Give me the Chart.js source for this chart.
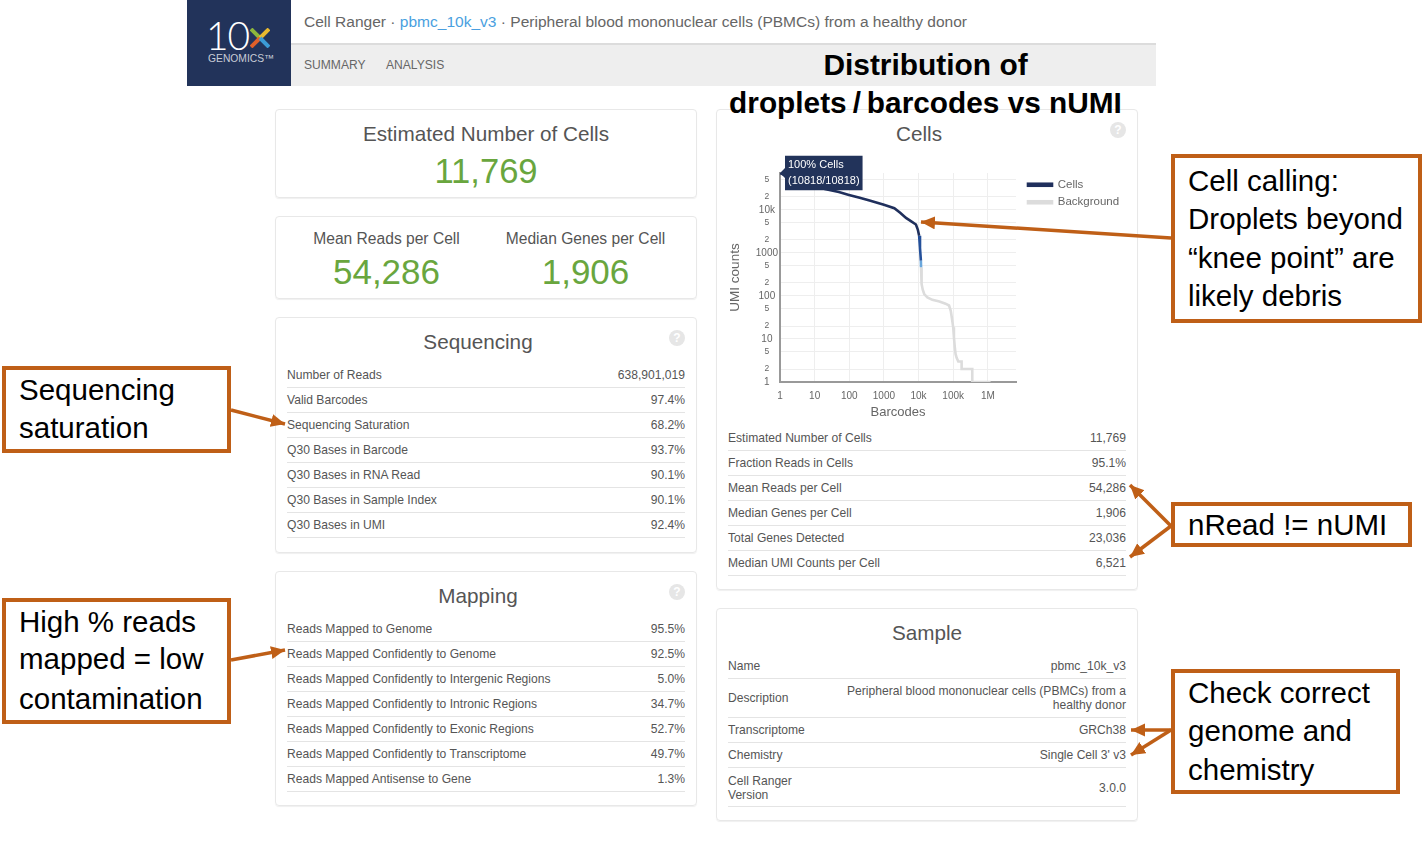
<!DOCTYPE html>
<html>
<head>
<meta charset="utf-8">
<title>pbmc_10k_v3</title>
<script src="https://cdn.jsdelivr.net/npm/chart.js@4"></script>
<style>
  html, body { margin: 0; background: #fff; overflow: hidden; }
  body { position: relative; width: 1427px; height: 847px; font-family: "Liberation Sans", Arial, sans-serif; color: #555; }
  .abs { position: absolute; white-space: nowrap; }
  .ctr { transform: translate(-50%, -50%); text-align: center; }
  .vmid { transform: translateY(-50%); }
  .panel { position: absolute; box-sizing: border-box; border: 1px solid #e8e8e8; border-radius: 4px; box-shadow: 0 1px 1px #f0f0f0; }
  .green { color: #69a63e; }
  .rowline { position: absolute; height: 1px; background: #e4e4e4; }
  .note { position: absolute; box-sizing: border-box; border: 4px solid #bf5f17; background: #fff; color: #000; font-size: 29.5px; white-space: nowrap; }
  .note div { position: absolute; left: 13px; transform: translateY(-50%); }
  .help { position: absolute; width: 16px; height: 16px; border-radius: 8px; background: #e6e6e6; color: #fff; font: bold 12px/16px "Liberation Sans"; text-align: center; }
  #chartBox { position: absolute; left: 725px; top: 150px; }
</style>
</head>
<body>

<div class="abs" style="left:187px;top:0;width:104px;height:86px;background:#22335a"></div>
<div class="abs" style="left:291px;top:43px;width:865px;height:43px;background:#eee"></div>
<div class="abs" style="left:291px;top:43px;width:865px;height:2px;background:#dcdcdc"></div>
<div class="abs vmid" style="left:206px;top:35px;font-family:Lato;font-weight:300;font-size:39px;line-height:30px;letter-spacing:-1px;color:#fff">10</div>
<svg class="abs" style="left:250px;top:28px" width="20" height="20">
  <line x1="1" y1="1" x2="10" y2="10" stroke="#8db63c" stroke-width="4"/>
  <line x1="19" y1="1" x2="10" y2="10" stroke="#e8b92f" stroke-width="4"/>
  <line x1="1" y1="19" x2="10" y2="10" stroke="#e0602a" stroke-width="4"/>
  <line x1="19" y1="19" x2="10" y2="10" stroke="#3b9bd6" stroke-width="4"/>
</svg>
<div class="abs vmid" style="left:208px;top:58px;font-size:10.3px;line-height:11px;color:#c8ccd6">GENOMICS&trade;</div>
<div class="abs vmid" style="left:304px;top:21.5px;font-size:15.54px;color:#666">Cell Ranger &middot; <span style="color:#4a9fe0">pbmc_10k_v3</span> &middot; Peripheral blood mononuclear cells (PBMCs) from a healthy donor</div>
<div class="abs vmid" style="left:304px;top:65px;font-size:12.1px;color:#666">SUMMARY</div>
<div class="abs vmid" style="left:386px;top:65px;font-size:12.1px;color:#666">ANALYSIS</div>

<div class="panel" style="left:275px;top:109px;width:422px;height:89px"></div>
<div class="panel" style="left:275px;top:216px;width:422px;height:83px"></div>
<div class="panel" style="left:275px;top:317px;width:422px;height:236px"></div>
<div class="panel" style="left:275px;top:571px;width:422px;height:235px"></div>
<div class="panel" style="left:716px;top:109px;width:422px;height:481px"></div>
<div class="panel" style="left:716px;top:608px;width:422px;height:213px"></div>

<div class="abs ctr" style="left:486px;top:134px;font-size:20.7px">Estimated Number of Cells</div>
<div class="abs ctr green" style="left:486px;top:170.5px;font-size:34.6px">11,769</div>
<div class="abs ctr" style="left:386.5px;top:239px;font-size:15.6px">Mean Reads per Cell</div>
<div class="abs ctr green" style="left:386.5px;top:272px;font-size:35px">54,286</div>
<div class="abs ctr" style="left:585.5px;top:239px;font-size:15.6px">Median Genes per Cell</div>
<div class="abs ctr green" style="left:585.5px;top:272px;font-size:35px">1,906</div>
<div class="abs ctr" style="left:478px;top:342px;font-size:20.7px">Sequencing</div>
<div class="abs ctr" style="left:478px;top:596px;font-size:20.7px">Mapping</div>
<div class="abs ctr" style="left:919px;top:134px;font-size:20.7px">Cells</div>
<div class="abs ctr" style="left:927px;top:633px;font-size:20.7px">Sample</div>
<div class="help" style="left:669px;top:330px">?</div>
<div class="help" style="left:669px;top:584px">?</div>
<div class="help" style="left:1110px;top:122px">?</div>

<div id="rows"></div>

<div id="chartBox"><canvas id="cellsChart" width="402" height="270"></canvas></div>

<div class="abs ctr" style="left:925.5px;top:65px;font-size:29.9px;font-weight:bold;color:#000">Distribution of</div>
<div class="abs ctr" style="left:925.5px;top:102.5px;font-size:29.8px;font-weight:bold;color:#000">droplets&thinsp;/&thinsp;barcodes vs nUMI</div>

<div class="note" style="left:2px;top:366px;width:229px;height:87px"><div style="top:20px">Sequencing</div><div style="top:58px">saturation</div></div>
<div class="note" style="left:2px;top:598px;width:229px;height:126px"><div style="top:20px">High % reads</div><div style="top:57px">mapped = low</div><div style="top:97px">contamination</div></div>
<div class="note" style="left:1171px;top:154px;width:251px;height:169px"><div style="top:23px">Cell calling:</div><div style="top:61px">Droplets beyond</div><div style="top:100px">&ldquo;knee point&rdquo; are</div><div style="top:138px">likely debris</div></div>
<div class="note" style="left:1171px;top:502px;width:241px;height:45px"><div style="top:19px">nRead != nUMI</div></div>
<div class="note" style="left:1171px;top:669px;width:229px;height:125px"><div style="top:20px">Check correct</div><div style="top:58px">genome and</div><div style="top:97px">chemistry</div></div>

<svg class="abs" style="left:0;top:0;pointer-events:none" width="1427" height="847">
  <defs>
    <marker id="head" markerUnits="userSpaceOnUse" markerWidth="15" markerHeight="14" refX="14" refY="6.5" orient="auto">
      <path d="M0,0 L14,6.5 L0,13 Z" fill="#bf5f17"/>
    </marker>
  </defs>
  <g stroke="#bf5f17" stroke-width="3.5" fill="none">
    <line x1="231" y1="410" x2="285" y2="424" marker-end="url(#head)"/>
    <line x1="231" y1="660" x2="285" y2="650" marker-end="url(#head)"/>
    <line x1="1171" y1="238" x2="921" y2="222" marker-end="url(#head)"/>
    <line x1="1171" y1="526" x2="1130" y2="485" marker-end="url(#head)"/>
    <line x1="1171" y1="526" x2="1130" y2="557" marker-end="url(#head)"/>
    <line x1="1171" y1="730" x2="1131" y2="730" marker-end="url(#head)"/>
    <line x1="1171" y1="730" x2="1131" y2="755" marker-end="url(#head)"/>
  </g>
</svg>

<script>
// chart values
const cellsX = [1, 3, 10, 19.6, 50, 98, 200, 385, 1000, 2000, 3000, 4340, 6000, 8400, 9500, 10400];
const cellsY = [72000, 50000, 36000, 30800, 26000, 22300, 19200, 16500, 13100, 10900, 8500, 6500, 5500, 4570, 3500, 2500];
const mixedX = [10400, 11000, 11670];
const mixedY = [2500, 1300, 662];
const edgeX = [11670, 11800];
const edgeY = [662, 464];
const backgroundX = [11800, 12000, 12470, 13200, 14600, 18000, 25000, 40000, 60000, 76000, 85000, 92000, 100000, 105000, 112000, 117000, 125000, 140000, 175000, 175000, 355000, 355000, 1200000];
const backgroundY = [464, 300, 190, 140, 111, 92, 81, 74, 66, 60, 45, 30, 18.7, 11, 6, 4.5, 3.7, 3, 3, 2, 2, 1, 1];

const xTickValues = [1, 10, 100, 1000, 10000, 100000, 1000000];
const xTickLabels = ['1', '10', '100', '1000', '10k', '100k', '1M'];
const yTickValues = [1, 2, 5, 10, 20, 50, 100, 200, 500, 1000, 2000, 5000, 10000, 20000, 50000];
const yTickLabels = ['1', '2', '5', '10', '2', '5', '100', '2', '5', '1000', '2', '5', '10k', '2', '5'];
const tooltipLines = ['100% Cells', '(10818/10818)'];

// table rows of the summary panels
const sequencingRows = [
  ['Number of Reads', '638,901,019'], ['Valid Barcodes', '97.4%'], ['Sequencing Saturation', '68.2%'],
  ['Q30 Bases in Barcode', '93.7%'], ['Q30 Bases in RNA Read', '90.1%'],
  ['Q30 Bases in Sample Index', '90.1%'], ['Q30 Bases in UMI', '92.4%']
];
const mappingRows = [
  ['Reads Mapped to Genome', '95.5%'], ['Reads Mapped Confidently to Genome', '92.5%'],
  ['Reads Mapped Confidently to Intergenic Regions', '5.0%'], ['Reads Mapped Confidently to Intronic Regions', '34.7%'],
  ['Reads Mapped Confidently to Exonic Regions', '52.7%'], ['Reads Mapped Confidently to Transcriptome', '49.7%'],
  ['Reads Mapped Antisense to Gene', '1.3%']
];
const cellsRows = [
  ['Estimated Number of Cells', '11,769'], ['Fraction Reads in Cells', '95.1%'], ['Mean Reads per Cell', '54,286'],
  ['Median Genes per Cell', '1,906'], ['Total Genes Detected', '23,036'], ['Median UMI Counts per Cell', '6,521']
];
const sampleRows = [
  ['Name', 'pbmc_10k_v3', 666, 678],
  ['Description', 'Peripheral blood mononuclear cells (PBMCs) from a<br>healthy donor', 698, 717],
  ['Transcriptome', 'GRCh38', 730, 742],
  ['Chemistry', 'Single Cell 3\' v3', 755, 767],
  ['Cell Ranger<br>Version', '3.0.0', 788, 806]
];

function addRow(left, right, y, lineY, a, b) {
  const holder = document.getElementById('rows');
  holder.insertAdjacentHTML('beforeend',
    `<div class="abs vmid" style="left:${left}px;top:${y}px;font-size:12.1px;line-height:14px">${a}</div>` +
    `<div class="abs vmid" style="right:${1427 - right}px;top:${y}px;font-size:12.1px;line-height:14px;text-align:right">${b}</div>` +
    `<div class="rowline" style="left:${left}px;width:${right - left}px;top:${lineY}px"></div>`);
}
sequencingRows.forEach((r, i) => addRow(287, 685, 375 + i * 25, 387 + i * 25, r[0], r[1]));
mappingRows.forEach((r, i) => addRow(287, 685, 629 + i * 25, 641 + i * 25, r[0], r[1]));
cellsRows.forEach((r, i) => addRow(728, 1126, 438 + i * 25, 450 + i * 25, r[0], r[1]));
sampleRows.forEach(r => addRow(728, 1126, r[2], r[3], r[0], r[1]));

function toPoints(xs, ys) {
  return xs.map((x, i) => ({ x: x, y: ys[i] }));
}

function lineSet(label, xs, ys, color) {
  return {
    label: label,
    data: toPoints(xs, ys),
    borderColor: color,
    backgroundColor: color,
    borderWidth: 2.6,
    pointRadius: 0,
    tension: 0
  };
}

const tickColor = '#666';

// nudge the legend away from the plot, its own padding would also stretch the rows
const legendNudge = {
  id: 'legendNudge',
  afterLayout: c => {
    c.legend.left += 6;
    c.legend.right += 6;
  }
};

const chart = new Chart(document.getElementById('cellsChart'), {
  type: 'line',
  plugins: [legendNudge],
  data: {
    datasets: [
      lineSet('Cells', cellsX, cellsY, '#1f2f5c'),
      lineSet('Mixed', mixedX, mixedY, '#24509a'),
      lineSet('Edge', edgeX, edgeY, '#6aa7dc'),
      lineSet('Background', backgroundX, backgroundY, '#dcdcdc')
    ]
  },
  options: {
    responsive: false,
    animation: false,
    events: [],
    layout: { padding: { left: 0, top: 23, right: 14, bottom: 0 } },
    scales: {
      x: {
        type: 'logarithmic',
        min: 1,
        max: 6500000,
        afterBuildTicks: axis => { axis.ticks = xTickValues.map(v => ({ value: v })); },
        afterFit: axis => { axis.height = 38; },
        grid: { color: '#eeeeee', drawTicks: false },
        border: { color: '#999', width: 2 },
        ticks: {
          autoSkip: false,
          maxRotation: 0,
          padding: 8,
          color: tickColor,
          font: { size: 10, family: 'Liberation Sans' },
          callback: (v, i) => xTickLabels[i]
        },
        title: { display: true, text: 'Barcodes', color: tickColor, padding: { top: 2, bottom: 0 }, font: { size: 13, family: 'Liberation Sans' } }
      },
      y: {
        type: 'logarithmic',
        min: 1,
        max: 72000,
        afterBuildTicks: axis => { axis.ticks = yTickValues.map(v => ({ value: v })); },
        afterFit: axis => { axis.width = 55; },
        grid: { color: '#eeeeee', drawTicks: false },
        border: { color: '#999', width: 2 },
        ticks: {
          autoSkip: false,
          padding: 2,
          crossAlign: 'center',
          color: tickColor,
          font: ctx => ({ size: ctx.index % 3 === 0 ? 10 : 8.5, family: 'Liberation Sans' }),
          callback: (v, i) => yTickLabels[i]
        },
        title: { display: true, text: 'UMI counts', color: tickColor, padding: { top: 2, bottom: 2 }, font: { size: 13.5, family: 'Liberation Sans' } }
      }
    },
    plugins: {
      legend: {
        position: 'right',
        align: 'start',
        labels: {
          boxWidth: 24,
          boxHeight: 2,
          padding: 6,
          color: tickColor,
          font: { size: 11.5, family: 'Liberation Sans' },
          filter: item => item.text === 'Cells' || item.text === 'Background'
        }
      },
      tooltip: {
        enabled: true,
        xAlign: 'left',
        yAlign: 'center',
        caretSize: 5,
        caretPadding: 0,
        cornerRadius: 0,
        padding: { x: 3, y: 3 },
        backgroundColor: '#22335a',
        titleColor: '#fff',
        titleFont: { size: 11, weight: 'normal', family: 'Liberation Sans' },
        titleSpacing: 2,
        titleMarginBottom: 0,
        displayColors: false,
        callbacks: {
          title: () => tooltipLines,
          label: () => ''
        }
      }
    }
  }
});

// the reference shows the tooltip pinned to the first barcode
const firstPoint = chart.getDatasetMeta(0).data[0];
chart.tooltip.setActiveElements([{ datasetIndex: 0, index: 0 }], { x: firstPoint.x, y: firstPoint.y });
chart.update();
</script>
</body>
</html>
